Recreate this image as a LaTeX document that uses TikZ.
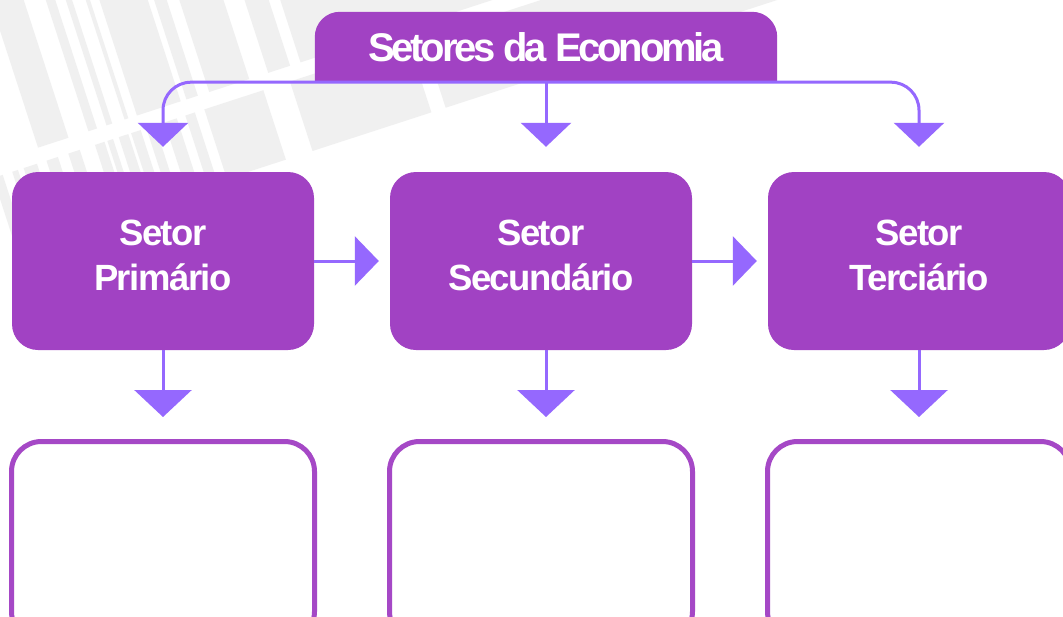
\documentclass[tikz,border=0pt]{standalone}
\usepackage{fontspec}
\setmainfont{Liberation Sans}
\newfontfamily\titlefont[LetterSpace=-8]{Liberation Sans}
\newfontfamily\boxfont[LetterSpace=-4]{Liberation Sans}
\usetikzlibrary{arrows.meta}
\definecolor{boxfill}{HTML}{A142C3}
\definecolor{arrowc}{HTML}{9568FE}
\definecolor{outl}{HTML}{A548C6}
\definecolor{bggray}{HTML}{F0F0F0}
\pgfdeclarelayer{bg}
\pgfsetlayers{bg,main}
\tikzset{
  titlebox/.style={minimum width=462pt, minimum height=70pt, inner sep=0pt, text=white,
    font=\titlefont\bfseries\fontsize{40}{48}\selectfont},
  sbox/.style={fill=boxfill, rounded corners=26pt, minimum width=302pt, minimum height=178pt,
    inner sep=0pt, text=white, align=center, text depth=12pt,
    font=\boxfont\bfseries\fontsize{36.5}{45}\selectfont},
  obox/.style={draw=outl, line width=5pt, rounded corners=30pt, minimum width=303pt, minimum height=200pt},
  conn/.style={draw=arrowc, line width=3pt},
  tipdown/.style={-{Triangle[width=50pt,length=24pt]}},
  tipside/.style={-{Triangle[width=49pt,length=24pt]}},
  tipbig/.style={-{Triangle[width=57pt,length=27pt]}},
  stripe/.style={fill=bggray}
}
\begin{document}
\begin{tikzpicture}[x=1pt,y=-1pt]
\useasboundingbox (0,0) rectangle (1063,616);
\clip (0,0) rectangle (1063,616);

% nodes
\node[titlebox] (T) at (546,47) {Setores da Economia};
\node[sbox] (p1) at (163,261) {Setor\\Primário};
\node[sbox] (p2) at (541,261) {Setor\\Secundário};
\node[sbox] (p3) at (919,261) {Setor\\Terciário};
\node[obox] (o1) at (163,541.5) {};
\node[obox] (o2) at (541,541.5) {};
\node[obox] (o3) at (919,541.5) {};

\begin{pgfonlayer}{bg}
  \fill[white] (0,0) rectangle (1063,616);
  % faint barcode background
  \begin{scope}[shift={(0,160)}, rotate=18]
    \foreach \a/\b in {40/72, 93/102, 112/118, 131/135, 144/190, 196/208, 220/262, 282/305, 316/560}
      \fill[stripe] (\a,-260) rectangle (\b,0);
    \foreach \a/\b in {-12/-2, 8/14, 20/34, 44/56, 67/79, 95/105, 108/114, 120/130, 133/143, 149/158, 168/181, 190/200, 210/272, 300/425, 440/800}
      \fill[stripe] (\a,15) rectangle (\b,88);
  \end{scope}
  % title background (top corners rounded)
  \fill[boxfill] (T.south west) -- ([yshift=-25pt]T.north west)
     arc[start angle=180, end angle=90, radius=25pt]
     -- ([xshift=-25pt]T.north east)
     arc[start angle=90, end angle=0, radius=25pt]
     -- (T.south east) -- cycle;
\end{pgfonlayer}

% connectors from title
\draw[conn, tipdown, rounded corners=28pt, shorten >=25pt] (T.south) -| (p1.north);
\draw[conn, tipdown, shorten >=25pt] (T.south) -- (T.south |- p2.north);
\draw[conn, tipdown, rounded corners=28pt, shorten >=25pt] (T.south) -| (p3.north);

% horizontal connectors
\draw[conn, tipside, shorten >=11pt] (p1.east) -- (p2.west);
\draw[conn, tipside, shorten >=11pt] (p2.east) -- (p3.west);

% down connectors
\draw[conn, tipbig, shorten >=22pt] (p1.south) -- (o1.north);
\draw[conn, tipbig, shorten >=22pt] (p2.south -| T.south) -- (o2.north -| T.south);
\draw[conn, tipbig, shorten >=22pt] (p3.south) -- (o3.north);
\end{tikzpicture}
\end{document}
